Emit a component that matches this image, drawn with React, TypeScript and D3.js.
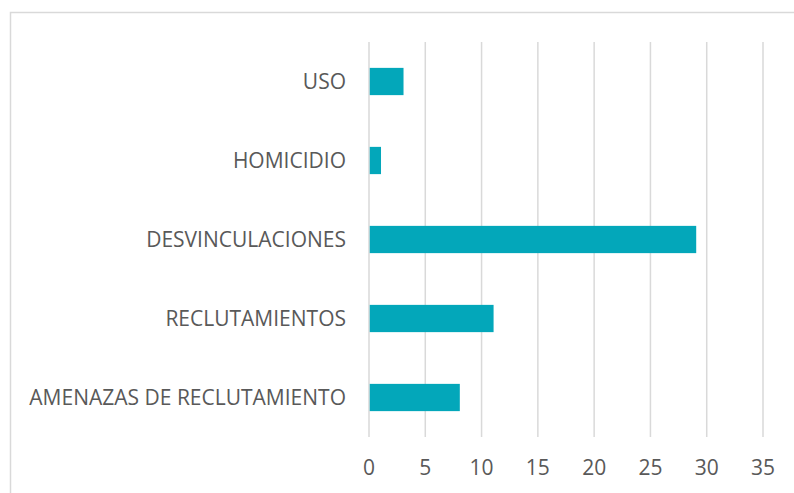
import * as d3 from "d3";
import { useEffect, useRef } from "react";

const categories = ["USO", "HOMICIDIO", "DESVINCULACIONES", "RECLUTAMIENTOS", "AMENAZAS DE RECLUTAMIENTO"];
const values = [3, 1, 29, 11, 8];
const xTicks = [0, 5, 10, 15, 20, 25, 30, 35];

const W = 794;
const H = 493;
const margin = { top: 42, bottom: 56, left: 369, right: 31 };

const App = () => {
  const ref = useRef<SVGSVGElement>(null);

  useEffect(() => {
    const svg = d3.select(ref.current);
    svg.selectAll("*").remove();

    const boundsW = W - margin.left - margin.right;
    const boundsH = H - margin.top - margin.bottom;

    const x = d3.scaleLinear().domain([0, 35]).range([0, boundsW]);
    const y = d3
      .scaleBand()
      .domain(categories)
      .range([0, boundsH])
      .paddingInner(0.655)
      .paddingOuter(0.3275);

    // chart border
    svg
      .append("rect")
      .attr("x", 10.5)
      .attr("y", 12.5)
      .attr("width", W)
      .attr("height", H)
      .style("fill", "none")
      .style("stroke", "#d9d9d9")
      .style("stroke-width", 1.5);

    const g = svg.append("g").attr("transform", `translate(${margin.left}, ${margin.top})`);

    g.selectAll(".grid")
      .data(xTicks)
      .enter()
      .append("line")
      .attr("class", "grid")
      .attr("x1", d => x(d))
      .attr("x2", d => x(d))
      .attr("y1", 0)
      .attr("y2", boundsH)
      .style("stroke", "#d9d9d9")
      .style("stroke-width", 1.5);

    g.selectAll(".bar")
      .data(values)
      .enter()
      .append("rect")
      .attr("class", "bar")
      .attr("x", x(0) + 0.75)
      .attr("y", (d, i) => y(categories[i]) as number)
      .attr("width", d => x(d) - x(0))
      .attr("height", y.bandwidth())
      .style("fill", "#03a7ba");

    g.selectAll(".cat")
      .data(categories)
      .enter()
      .append("text")
      .attr("class", "cat")
      .attr("x", -23)
      .attr("y", d => (y(d) as number) + y.bandwidth() / 2)
      .attr("dy", "0.35em")
      .attr("text-anchor", "end")
      .style("font-family", "'Open Sans', sans-serif")
      .style("font-size", "21px")
      .style("fill", "#595959")
      .text(d => d);

    g.selectAll(".tick-label")
      .data(xTicks)
      .enter()
      .append("text")
      .attr("class", "tick-label")
      .attr("x", d => x(d))
      .attr("y", boundsH + 31)
      .attr("dy", "0.35em")
      .attr("text-anchor", "middle")
      .style("font-family", "'Open Sans', sans-serif")
      .style("font-size", "21px")
      .style("fill", "#595959")
      .text(d => d);
  }, []);

  return (
    <svg
      ref={ref}
      width={W}
      height={H}
      style={{ position: "absolute", left: 0, top: 0, background: "#fff" }}
    ></svg>
  );
};

export default App;
